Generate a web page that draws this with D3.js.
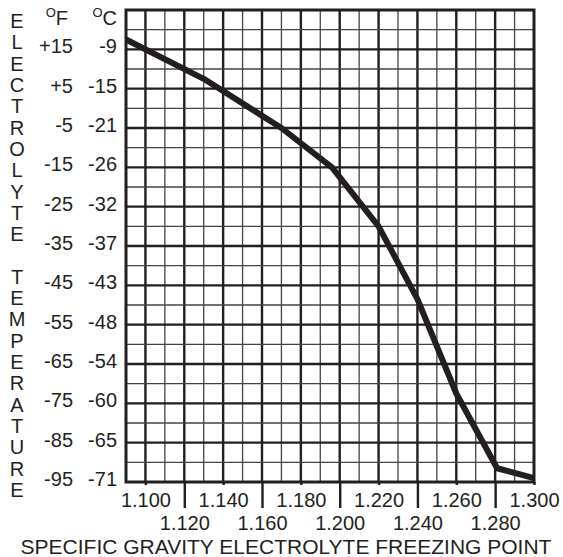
<!DOCTYPE html>
<html>
<head>
<meta charset="utf-8">
<script src="https://cdn.jsdelivr.net/npm/d3@7/dist/d3.min.js"></script>
<style>
    html, body { margin: 0; padding: 0; background: #fff; }
    svg { display: block; font-family: "Liberation Sans", Arial, Helvetica, sans-serif; }
    text { fill: #231f20; }
</style>
</head>
<body>
<div id="chart"></div>
<script>
/* --------------------------------------------------------------
DATOS — punto de congelación del electrolito
-------------------------------------------------------------- */

const gravity = [1.090, 1.130, 1.170, 1.196, 1.220, 1.240, 1.260, 1.281, 1.300];
const tempF   = [17.5, 7.5, -5, -15, -30, -48.5, -72.5, -91.5, -94];

const fTicks   = [15, 5, -5, -15, -25, -35, -45, -55, -65, -75, -85, -95];
const fLabels  = ["+15", "+5", "-5", "-15", "-25", "-35", "-45", "-55", "-65", "-75", "-85", "-95"];
const cLabels  = ["-9", "-15", "-21", "-26", "-32", "-37", "-43", "-48", "-54", "-60", "-65", "-71"];

const xUpper = [1.100, 1.140, 1.180, 1.220, 1.260, 1.300];
const xLower = [1.120, 1.160, 1.200, 1.240, 1.280];

const yTitle = "ELECTROLYTE TEMPERATURE";
const xTitle = "SPECIFIC GRAVITY ELECTROLYTE FREEZING POINT";

/* --------------------------------------------------------------
LIENZO Y ESCALAS
-------------------------------------------------------------- */

const width = 563;
const height = 557;
const ink = "#231f20";

const svg = d3.select("#chart")
    .append("svg")
    .attr("width", width)
    .attr("height", height);

const x = d3.scaleLinear().domain([1.09, 1.30]).range([126, 534]);
const y = d3.scaleLinear().domain([25, -95]).range([10, 482]);

/* --------------------------------------------------------------
REJILLA
-------------------------------------------------------------- */

const xGrid = d3.range(110, 130).map(v => v / 100);   // 1.10 … 1.29
const yGrid = d3.range(20, -95, -5);                   // 20 … -90

const grid = svg.append("g");

grid.selectAll("line.vx")
    .data(xGrid)
    .enter()
    .append("line")
    .attr("x1", d => x(d))
    .attr("x2", d => x(d))
    .attr("y1", y(25))
    .attr("y2", y(-95))
    .attr("stroke", (d, i) => i % 2 === 0 ? ink : "#444")
    .attr("stroke-width", (d, i) => i % 2 === 0 ? 2.4 : 1.3);

grid.selectAll("line.hy")
    .data(yGrid)
    .enter()
    .append("line")
    .attr("x1", x(1.09))
    .attr("x2", x(1.30))
    .attr("y1", d => y(d))
    .attr("y2", d => y(d))
    .attr("stroke", d => d % 10 !== 0 ? ink : "#444")
    .attr("stroke-width", d => d % 10 !== 0 ? 2.4 : 1.3);

svg.append("rect")
    .attr("x", x(1.09))
    .attr("y", y(25))
    .attr("width", x(1.30) - x(1.09))
    .attr("height", y(-95) - y(25))
    .attr("fill", "none")
    .attr("stroke", ink)
    .attr("stroke-width", 3);

/* --------------------------------------------------------------
CURVA
-------------------------------------------------------------- */

const points = gravity.map((g, i) => [g, tempF[i]]);

svg.append("path")
    .datum(points)
    .attr("fill", "none")
    .attr("stroke", ink)
    .attr("stroke-width", 6)
    .attr("stroke-linejoin", "round")
    .attr("d", d3.line().x(d => x(d[0])).y(d => y(d[1])));

/* --------------------------------------------------------------
EJE X (dos filas de etiquetas)
-------------------------------------------------------------- */

function styleAxis(g) {
    g.select(".domain").remove();
    g.selectAll("line").attr("stroke", ink).attr("stroke-width", 2.4);
    g.selectAll("text")
        .attr("fill", ink)
        .style("font-size", "20px")
        .style("font-family", "'Liberation Sans', Arial, sans-serif");
}

svg.append("g")
    .attr("transform", `translate(0,${y(-95)})`)
    .call(d3.axisBottom(x).tickValues(xUpper).tickFormat(d3.format(".3f")).tickSize(3).tickPadding(8))
    .call(styleAxis);

svg.append("g")
    .attr("transform", `translate(0,${y(-95)})`)
    .call(d3.axisBottom(x).tickValues(xLower).tickFormat(d3.format(".3f")).tickSize(26).tickPadding(8))
    .call(styleAxis);

svg.append("text")
    .attr("x", 286)
    .attr("y", 554)
    .attr("text-anchor", "middle")
    .style("font-size", "21px")
    .text(xTitle);

/* --------------------------------------------------------------
EJE Y (°F y °C)
-------------------------------------------------------------- */

svg.append("g")
    .attr("transform", "translate(73,-3)")
    .call(d3.axisLeft(y).tickValues(fTicks).tickFormat((d, i) => fLabels[i]).tickSize(0).tickPadding(0))
    .call(styleAxis);

svg.append("g")
    .attr("transform", "translate(117,-3)")
    .call(d3.axisLeft(y).tickValues(fTicks).tickFormat((d, i) => cLabels[i]).tickSize(0).tickPadding(0))
    .call(styleAxis);

// cabeceras con la "O" volada
const heads = [
    { unit: "F", right: 68 },
    { unit: "C", right: 117 }
];

heads.forEach(h => {
    const t = svg.append("text")
        .attr("x", h.right)
        .attr("y", 25)
        .attr("text-anchor", "end")
        .style("font-size", "20px");
    t.append("tspan")
        .attr("dy", -8)
        .style("font-size", "13px")
        .text("O");
    t.append("tspan")
        .attr("dy", 8)
        .text(h.unit);
});

// título vertical, letra por letra
svg.append("g")
    .selectAll("text")
    .data(yTitle.split(""))
    .enter()
    .append("text")
    .attr("x", 17)
    .attr("y", (d, i) => 28 + i * 21.32)
    .attr("text-anchor", "middle")
    .style("font-size", "20px")
    .text(d => d);
</script>
</body>
</html>
